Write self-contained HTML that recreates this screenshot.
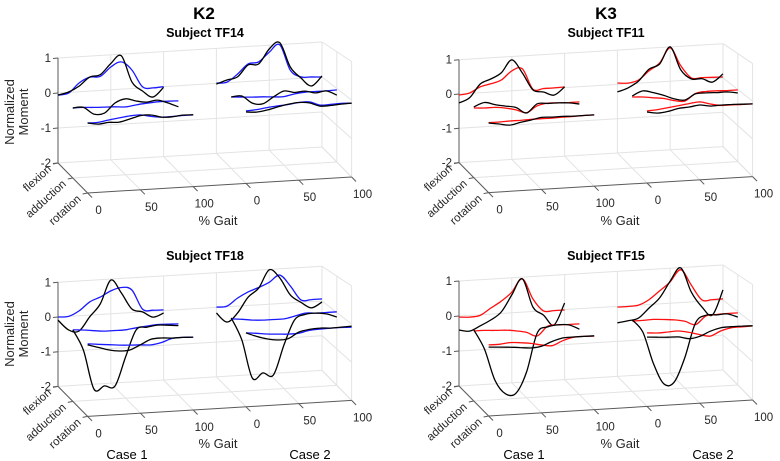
<!DOCTYPE html>
<html><head><meta charset="utf-8"><style>
html,body{margin:0;padding:0;background:#fff;}
svg{display:block;font-family:"Liberation Sans",Arial,sans-serif;}
.g{stroke:#e3e3e3;stroke-width:1;fill:none;}
.ax{stroke:#5a5a5a;stroke-width:1;fill:none;}
.t{fill:#262626;font-size:11.5px;}
</style></head><body>
<svg id="fig" width="780" height="461" viewBox="0 0 780 461">
<text x="204" y="19" text-anchor="middle" font-size="17" font-weight="bold" fill="#000">K2</text>
<text x="606" y="19" text-anchor="middle" font-size="17" font-weight="bold" fill="#000">K3</text>
<text x="205" y="37" text-anchor="middle" font-size="12.5" font-weight="bold" fill="#000">Subject TF14</text>
<text x="606" y="37" text-anchor="middle" font-size="12.5" font-weight="bold" fill="#000">Subject TF11</text>
<text x="205" y="260" text-anchor="middle" font-size="12.5" font-weight="bold" fill="#000">Subject TF18</text>
<text x="606" y="260" text-anchor="middle" font-size="12.5" font-weight="bold" fill="#000">Subject TF15</text>
<text transform="translate(14,112) rotate(-90)" text-anchor="middle" font-size="13" fill="#262626">Normalized</text>
<text transform="translate(28,112) rotate(-90)" text-anchor="middle" font-size="13" fill="#262626">Moment</text>
<text transform="translate(14,334) rotate(-90)" text-anchor="middle" font-size="13" fill="#262626">Normalized</text>
<text transform="translate(28,334) rotate(-90)" text-anchor="middle" font-size="13" fill="#262626">Moment</text>
<text x="218" y="225" text-anchor="middle" font-size="13" fill="#262626">% Gait</text>
<text x="620" y="225" text-anchor="middle" font-size="13" fill="#262626">% Gait</text>
<text x="218" y="448" text-anchor="middle" font-size="13" fill="#262626">% Gait</text>
<text x="620" y="448" text-anchor="middle" font-size="13" fill="#262626">% Gait</text>
<text x="127" y="459" text-anchor="middle" font-size="13" fill="#000">Case 1</text>
<text x="310" y="459" text-anchor="middle" font-size="13" fill="#000">Case 2</text>
<text x="524" y="459" text-anchor="middle" font-size="13" fill="#000">Case 1</text>
<text x="713" y="459" text-anchor="middle" font-size="13" fill="#000">Case 2</text>
</svg>
<script>
const gait=[0,10,20,30,40,50,60,70,80,90,100];
const zTicks=[1,0,-1,-2];
const xTickVals=[0,50,100,150,200,250];
const xTickLabels=['0','50','100','0','50','100'];
const yTickLabels=['flexion','adduction','rotation'];
const case2Offset=150;

// TF14 (K2, blue)
const tf14C1FlexBlack=[-0.06,0.01,0.16,0.4,0.45,0.75,0.95,0.19,-0.09,-0.28,-0.02];
const tf14C1FlexModel=[-0.06,-0.02,0.25,0.4,0.4,0.65,0.78,0.53,0.03,-0.02,0];
const tf14C1AddBlack=[0,0,-0.21,-0.2,0.07,0.17,0.09,0.04,0.08,-0.02,-0.15];
const tf14C1AddModel=[0,0,-0.02,-0.03,-0.04,-0.06,-0.02,0.01,0.03,0.03,0.02];
const tf14C1RotBlack=[0,-0.05,-0.02,-0.03,0.04,0.12,0.12,0.04,0.03,0.06,0.05];
const tf14C1RotModel=[0,0,0.05,0.09,0.13,0.14,0.08,0.04,0.04,0.05,0.05];
const tf14C2FlexBlack=[-0.02,0.08,0.15,0.47,0.48,0.89,1.05,0.34,0.01,-0.24,0.03];
const tf14C2FlexModel=[0.01,0.02,0.23,0.5,0.54,0.8,0.99,0.25,0.04,0.02,0];
const tf14C2AddBlack=[0.04,0.05,-0.17,-0.21,-0.03,0.12,0.06,0.08,0.01,0.05,-0.09];
const tf14C2AddModel=[0.04,0.02,0,-0.01,-0.03,-0.04,0.02,0.05,0.05,0.05,0.06];
const tf14C2RotBlack=[0.04,0.02,0.06,0.13,0.19,0.22,0.19,0.08,0.08,0.1,0.11];
const tf14C2RotModel=[0.07,0.09,0.13,0.16,0.18,0.22,0.22,0.11,0.11,0.12,0.11];
// TF11 (K3, red)
const tf11C1FlexBlack=[-0.26,-0.13,0.25,0.38,0.54,0.9,0.5,-0.01,-0.09,-0.2,0.02];
const tf11C1FlexModel=[-0.03,0.01,0.17,0.24,0.33,0.58,0.62,0.01,0.01,0.01,0.02];
const tf11C1AddBlack=[0.06,0.17,0.09,0.03,-0.03,-0.21,0.04,0.03,0.03,0.01,-0.04];
const tf11C1AddModel=[0.03,0.01,0.01,-0.03,-0.1,-0.2,-0.02,0.04,0.03,0.02,0.02];
const tf11C1RotBlack=[0.03,-0.02,-0.07,-0.01,0.04,0.1,0.09,0.09,0.08,0.08,0.08];
const tf11C1RotModel=[0.04,0.04,0.05,0.05,0.06,0.06,0.06,0.07,0.07,0.08,0.08];
const tf11C2FlexBlack=[-0.22,-0.12,0.06,0.39,0.52,1.0,0.31,0.03,0.02,-0.1,0.12];
const tf11C2FlexModel=[0.04,0.02,0.09,0.34,0.55,0.97,0.43,0.06,0.05,0.04,0.03];
const tf11C2AddBlack=[0.1,0.23,0.16,0.06,-0.06,-0.11,0.05,0.06,0.05,0.05,0];
const tf11C2AddModel=[0.07,0.05,0.01,-0.03,-0.11,-0.14,0.06,0.1,0.1,0.09,0.09];
const tf11C2RotBlack=[0.07,0.02,0.05,0.12,0.14,0.18,0.13,0.14,0.14,0.13,0.12];
const tf11C2RotModel=[0.1,0.12,0.16,0.2,0.24,0.27,0.19,0.13,0.13,0.12,0.12];
// TF18 (K2, blue)
const tf18C1FlexBlack=[-0.09,-0.39,-0.44,-0.05,0.3,0.97,0.58,0.1,0,-0.17,-0.07];
const tf18C1FlexModel=[0,0,0.14,0.38,0.5,0.66,0.74,0.65,0.08,0.03,0.02];
const tf18C1AddBlack=[0.06,-0.54,-1.68,-1.61,-1.63,-0.81,-0.05,0.01,0.05,0.03,0];
const tf18C1AddModel=[0.06,0.04,0,-0.03,-0.03,-0.03,0.01,0.04,0.07,0.06,0.05];
const tf18C1RotBlack=[0.06,-0.03,-0.12,-0.17,-0.16,-0.03,0.11,0.13,0.11,0.11,0.1];
const tf18C1RotModel=[0.09,0.06,0.03,0,-0.02,-0.03,-0.05,0,0.1,0.11,0.1];
const tf18C2FlexBlack=[-0.16,-0.44,-0.2,0.24,0.48,0.99,0.74,0.23,0,-0.18,-0.03];
const tf18C2FlexModel=[0.01,0.02,0.23,0.39,0.5,0.63,0.82,0.49,0.07,0.06,0.06];
const tf18C2AddBlack=[0.13,-0.52,-1.64,-1.51,-1.59,-0.74,-0.04,0.1,0.12,0.08,-0.03];
const tf18C2AddModel=[0.1,0.07,0.03,0.01,0.01,0.01,0.07,0.14,0.12,0.12,0.12];
const tf18C2RotBlack=[0.13,0.01,-0.08,-0.13,-0.11,0.06,0.12,0.14,0.12,0.13,0.14];
const tf18C2RotModel=[0.13,0.1,0.06,0.04,0.02,0.03,0.09,0.11,0.12,0.12,0.11];
// TF15 (K3, red)
const tf15C1FlexBlack=[-0.4,-0.45,-0.32,-0.17,0.04,0.51,0.95,0.13,-0.12,-0.42,0.19];
const tf15C1FlexModel=[-0.03,-0.05,-0.02,0.17,0.35,0.59,0.95,0.36,0,-0.01,-0.01];
const tf15C1AddBlack=[0.03,-0.53,-1.44,-1.85,-1.85,-1.26,-0.17,-0.01,0.03,0.01,-0.13];
const tf15C1AddModel=[0,0,-0.02,-0.03,-0.07,-0.13,-0.25,0.01,0.03,0.02,0.02];
const tf15C1RotBlack=[-0.03,-0.05,-0.07,-0.1,-0.13,-0.1,0.02,0.1,0.11,0.11,0.11];
const tf15C1RotModel=[0.03,0.03,0.06,0.04,0,-0.06,-0.1,0.02,0.1,0.11,0.1];
const tf15C2FlexBlack=[-0.47,-0.43,-0.37,-0.1,0.17,0.63,0.99,0.28,-0.16,-0.41,0.29];
const tf15C2FlexModel=[-0.02,-0.02,0,0.14,0.37,0.61,0.94,0.48,0.04,0.03,0.03];
const tf15C2AddBlack=[0.04,-0.32,-1.23,-1.84,-1.8,-1.11,-0.15,0.05,0.04,0.05,-0.06];
const tf15C2AddModel=[0.01,0.01,0.02,0,-0.03,-0.09,-0.2,0.03,0.05,0.06,0.06];
const tf15C2RotBlack=[-0.02,-0.04,-0.06,-0.07,-0.14,-0.09,0.04,0.12,0.13,0.13,0.12];
const tf15C2RotModel=[0.1,0.08,0.09,0.1,0.04,-0.04,-0.1,0.03,0.1,0.11,0.12];

const panels=[
 {id:'tf14',ox:58,oy:93,ez:35,color:'#1a1aff',
  c1:[[tf14C1FlexBlack,tf14C1FlexModel],[tf14C1AddBlack,tf14C1AddModel],[tf14C1RotBlack,tf14C1RotModel]],
  c2:[[tf14C2FlexBlack,tf14C2FlexModel],[tf14C2AddBlack,tf14C2AddModel],[tf14C2RotBlack,tf14C2RotModel]]},
 {id:'tf11',ox:459,oy:94,ez:34.3,color:'#ff1010',
  c1:[[tf11C1FlexBlack,tf11C1FlexModel],[tf11C1AddBlack,tf11C1AddModel],[tf11C1RotBlack,tf11C1RotModel]],
  c2:[[tf11C2FlexBlack,tf11C2FlexModel],[tf11C2AddBlack,tf11C2AddModel],[tf11C2RotBlack,tf11C2RotModel]]},
 {id:'tf18',ox:58,oy:317,ez:34.7,color:'#1a1aff',
  c1:[[tf18C1FlexBlack,tf18C1FlexModel],[tf18C1AddBlack,tf18C1AddModel],[tf18C1RotBlack,tf18C1RotModel]],
  c2:[[tf18C2FlexBlack,tf18C2FlexModel],[tf18C2AddBlack,tf18C2AddModel],[tf18C2RotBlack,tf18C2RotModel]]},
 {id:'tf15',ox:459,oy:316,ez:35,color:'#ff1010',
  c1:[[tf15C1FlexBlack,tf15C1FlexModel],[tf15C1AddBlack,tf15C1AddModel],[tf15C1RotBlack,tf15C1RotModel]],
  c2:[[tf15C2FlexBlack,tf15C2FlexModel],[tf15C2AddBlack,tf15C2AddModel],[tf15C2RotBlack,tf15C2RotModel]]}
];
const curveNames=['flexion','adduction','rotation'];
const NS='http://www.w3.org/2000/svg';
const svg=document.getElementById('fig');

function mk(tag,attrs,parent){const e=document.createElementNS(NS,tag);for(const k in attrs)e.setAttribute(k,attrs[k]);parent.appendChild(e);return e;}

function smoothPath(pts){
  let d='M'+pts[0][0].toFixed(1)+','+pts[0][1].toFixed(1);
  for(let i=0;i<pts.length-1;i++){
    const p0=pts[Math.max(0,i-1)],p1=pts[i],p2=pts[i+1],p3=pts[Math.min(pts.length-1,i+2)];
    const c1=[p1[0]+(p2[0]-p0[0])/6,p1[1]+(p2[1]-p0[1])/6];
    const c2=[p2[0]-(p3[0]-p1[0])/6,p2[1]-(p3[1]-p1[1])/6];
    d+='C'+c1[0].toFixed(1)+','+c1[1].toFixed(1)+' '+c2[0].toFixed(1)+','+c2[1].toFixed(1)+' '+p2[0].toFixed(1)+','+p2[1].toFixed(1);
  }
  return d;
}

panels.forEach(p=>{
  const P=(x,y,z)=>[p.ox+1.056*x+14.8*y, p.oy-0.064*x+15*y-p.ez*z];
  // box projection with slight perspective for walls (pivot at floor)
  const B=(x,y,z)=>{const s=1+0.05*y;return [p.ox+1.056*x+14.8*y, p.oy-0.064*x+15*y+2*p.ez-p.ez*s*(z+2)];};
  const g=mk('g',{},svg);
  
  
  const L=(a,b,cls,name)=>{const l=mk('line',{x1:a[0],y1:a[1],x2:b[0],y2:b[1],class:cls},g);return l;};
  // back wall grid
  xTickVals.forEach(x=>{L(B(x,0,-2),B(x,0,1),'g','grid-back-vertical');});
  zTicks.forEach(z=>{L(B(0,0,z),B(250,0,z),'g','grid-back-horizontal');});
  // floor grid
  xTickVals.forEach(x=>{L(B(x,0,-2),B(x,2,-2),'g','grid-floor-depth');});
  [1].forEach(y=>{L(B(0,y,-2),B(250,y,-2),'g','grid-floor-length');});
  // right wall
  zTicks.forEach(z=>{L(B(250,0,z),B(250,2,z),'g','grid-side-horizontal');});
  [1,2].forEach(y=>{L(B(250,y,-2),B(250,y,1),'g','grid-side-vertical');});
  // axis lines
  L(B(0,0,-2),B(0,0,1),'ax','z-axis-line');
  L(B(0,0,-2),B(0,2,-2),'ax','y-axis-line');
  L(B(0,2,-2),B(250,2,-2),'ax','x-axis-line');
  // z ticks
  zTicks.forEach(z=>{
    const a=B(0,0,z);
    L(a,[a[0]-5,a[1]+0.5],'ax','z-tick');
    const t=mk('text',{x:a[0]-7,y:a[1]+4,'text-anchor':'end',class:'t'},g);
    
    
    t.textContent=String(z);
  });
  // y ticks
  yTickLabels.forEach((lab,i)=>{
    const a=B(0,i,-2);
    L(a,[a[0]-5,a[1]+1],'ax','y-tick');
    const t=mk('text',{x:0,y:0,'text-anchor':'end',class:'t',transform:'translate('+(a[0]-6)+','+(a[1]+7)+') rotate(-42)'},g);
    
    
    t.textContent=lab;
  });
  // x ticks
  xTickVals.forEach((x,k)=>{
    const a=B(x,2,-2),b=B(x,2.3,-2);
    L(a,b,'ax','x-tick');
    const t=mk('text',{x:a[0]+11,y:a[1]+21,'text-anchor':'middle',class:'t'},g);
    
    
    t.textContent=xTickLabels[k];
  });
  // curves
  [[p.c1,0],[p.c2,case2Offset]].forEach(([cs,off],ci)=>{
    cs.forEach((pair,i)=>{
      [[pair[1],p.color,1.3,'model'],[pair[0],'#000',1.3,'measured']].forEach(([vals,col,w,kind])=>{
        const pts=gait.map((gv,k)=>P(gv+off,i,vals[k]));
        const path=mk('path',{d:smoothPath(pts),fill:'none',stroke:col,'stroke-width':w,'stroke-linejoin':'round'},g);
        
        
      });
    });
  });
});
</script>
</body></html>
